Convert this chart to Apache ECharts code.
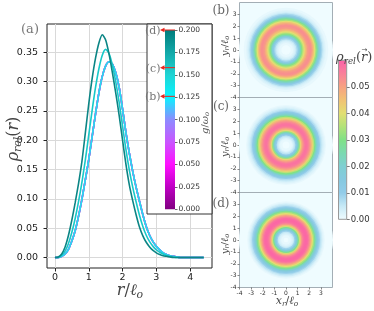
<!DOCTYPE html>
<html><head><meta charset="utf-8">
<script src="https://cdn.jsdelivr.net/npm/echarts@6/dist/echarts.min.js"></script>
<style>html,body{margin:0;padding:0;background:#fff}#c{width:374px;height:311px}pre{font-size:8px;position:absolute;top:0;left:0;margin:0}</style>
</head><body><div id="c"></div>
<script>
// ---------- data (panel a) ----------
const rGrid = [0,0.1,0.2,0.3,0.4,0.5,0.6,0.7,0.8,0.9,1.0,1.1,1.2,1.3,1.4,1.5,1.6,1.7,1.8,1.9,2.0,2.1,2.2,2.3,2.4,2.5,2.6,2.7,2.8,2.9,3.0,3.1,3.2,3.3,3.4,3.5,3.6,3.7,3.8,3.9,4.0,4.1,4.2,4.3,4.4];
const rhoB = [0,0.000,0.002,0.006,0.014,0.028,0.046,0.071,0.100,0.133,0.167,0.206,0.245,0.281,0.309,0.327,0.334,0.330,0.315,0.290,0.253,0.213,0.178,0.147,0.120,0.096,0.073,0.053,0.038,0.027,0.019,0.013,0.008,0.005,0.003,0.002,0.001,0,0,0,0,0,0,0,0];
const rhoC = [0,0.000,0.004,0.011,0.024,0.043,0.067,0.096,0.129,0.167,0.209,0.251,0.290,0.322,0.345,0.355,0.348,0.328,0.299,0.264,0.224,0.184,0.149,0.120,0.095,0.072,0.053,0.038,0.027,0.019,0.013,0.009,0.006,0.003,0.002,0.001,0,0,0,0,0,0,0,0,0];
const rhoD = [0,0.001,0.006,0.018,0.038,0.064,0.094,0.127,0.165,0.213,0.262,0.305,0.340,0.366,0.380,0.371,0.347,0.315,0.280,0.242,0.200,0.159,0.124,0.097,0.073,0.052,0.037,0.026,0.018,0.012,0.008,0.005,0.003,0.002,0.001,0,0,0,0,0,0,0,0,0,0];
const gCurves = [0, 0.05, 0.1, 0.126, 0.158, 0.2];
const rTicks = [0,1,2,3,4];
const rhoTicks = [0,0.05,0.10,0.15,0.20,0.25,0.30,0.35];
const gTicks = [0,0.025,0.05,0.075,0.1,0.125,0.15,0.175,0.2];
const gMarks = [0.126, 0.158, 0.2];
const gMarkLabels = ['(b)','(c)','(d)'];
const gMax = 0.2;
// ---------- data (panels b,c,d) ----------
const ringR = [0.1,0.2,0.3,0.4,0.5,0.6,0.7,0.8,0.9,1.0,1.1,1.2,1.3,1.4,1.5,1.6,1.7,1.8,1.9,2.0,2.1,2.2,2.3,2.4,2.5,2.6,2.7,2.8,2.9,3.0,3.1,3.2,3.3,3.4,3.5,3.6,3.7,3.8,3.9,4.0];
const densB = [0,0,0,0,0.001,0.001,0.002,0.003,0.005,0.008,0.012,0.018,0.025,0.031,0.036,0.040,0.045,0.048,0.051,0.052,0.053,0.052,0.049,0.045,0.040,0.034,0.028,0.022,0.016,0.011,0.008,0.005,0.003,0.002,0.001,0.001,0,0,0,0];
const densC = [0,0,0,0.001,0.001,0.002,0.004,0.006,0.010,0.016,0.024,0.033,0.042,0.048,0.052,0.055,0.057,0.057,0.056,0.054,0.051,0.047,0.042,0.036,0.030,0.024,0.019,0.014,0.010,0.007,0.005,0.003,0.002,0.001,0,0,0,0,0,0];
const densD = [0,0,0.001,0.001,0.002,0.003,0.005,0.009,0.014,0.021,0.029,0.038,0.046,0.052,0.056,0.058,0.059,0.059,0.058,0.055,0.051,0.046,0.040,0.034,0.028,0.022,0.017,0.012,0.009,0.006,0.004,0.002,0.001,0,0,0,0,0,0,0];
const densTicks = [0,0.01,0.02,0.03,0.04,0.05];
const densMax = 0.06;
const xyTicks = [-4,-3,-2,-1,0,1,2,3];

// ---------- styles ----------
const curveSets = [rhoB, rhoB, rhoB, rhoB, rhoC, rhoD];
const curveColors = ['#7d0a7d','#f010f0','#8f8cff','#25dcef','#17c9c9','#0b8585'];
const gStops = [[0,'#800080'],[0.025,'#bf00c4'],[0.05,'#ff10ff'],[0.075,'#c955ff'],[0.1,'#8c8cff'],[0.125,'#08f4ff'],[0.15,'#20d4d4'],[0.175,'#12a8a8'],[0.2,'#007c7c']];
const densColors = ['#effcff','#c6e9f6','#92cce9','#86c9e0','#7fcfd2','#7ad9b0','#80e186','#b2e278','#e2df72','#f1c274','#f7a282','#f9809a','#fc62a8'];
const serif = '"DejaVu Serif", serif';
const sans = '"DejaVu Sans", sans-serif';

function richLabel(parts, F, color, align){
  return {
    text: parts.map(p => '{' + p[0] + '|' + p[1] + '}').join(''),
    rich: {
      m: {fontFamily: serif, fontStyle:'italic', fontSize: F, lineHeight: F*1.2, verticalAlign:'middle', fill: color},
      u: {fontFamily: serif, fontSize: F, lineHeight: F*1.2, verticalAlign:'middle', fill: color},
      s: {fontFamily: serif, fontStyle:'italic', fontSize: F*0.68, lineHeight: F*0.7, verticalAlign:'bottom', fill: color}
    },
    align: align || 'center', verticalAlign:'middle', fill: color
  };
}

const panelTops = [2.5, 97.5, 192.5];
const panelDens = [densB, densC, densD];

// grid 0: panel a, 1: g colorbar, 2-4: ring panels, 5: density colorbar
const grids = [
  {left:47, top:24, width:165, height:244, show:true, borderColor:'#222', borderWidth:1, backgroundColor:'transparent'},
  {left:165, top:30, width:10, height:179.3, z:10},
  ...panelTops.map(t => ({left:239.5, top:t, width:93, height:95, show:true, borderColor:'#a3aeb5', borderWidth:1, backgroundColor:densColors[0]})),
  {left:338.5, top:60.3, width:8.2, height:159, show:true, borderColor:'#999', borderWidth:1, backgroundColor:'transparent', z:3}
];

const xAxes = [
  {gridIndex:0, type:'value', min:-0.235, max:4.645,
   axisLine:{show:false, onZero:false},
   axisTick:{show:true, length:3.5, customValues:rTicks, lineStyle:{color:'#222'}},
   axisLabel:{customValues:rTicks, fontSize:9.5, fontFamily:sans, color:'#222', margin:5},
   splitLine:{show:true, lineStyle:{color:'#d9d9d9', width:1}}},
  {gridIndex:1, type:'value', min:0, max:1, show:false},
  ...[2,3,4].map(gi => ({gridIndex:gi, type:'value', min:-4, max:4,
   axisLine:{show:false, onZero:false},
   axisTick:{show: gi===4, length:2, customValues:xyTicks, lineStyle:{color:'#555', width:0.7}},
   axisLabel:{show: gi===4, customValues:xyTicks, fontSize:6, fontFamily:sans, color:'#333', margin:3},
   splitLine:{show:false}})),
  {gridIndex:5, type:'value', min:0, max:1, show:false}
];
const yAxes = [
  {gridIndex:0, type:'value', min:-0.0179, max:0.3983,
   axisLine:{show:false, onZero:false},
   axisTick:{show:true, length:3.5, customValues:rhoTicks, lineStyle:{color:'#222'}},
   axisLabel:{customValues:rhoTicks, formatter:v=>v.toFixed(2), fontSize:9.5, fontFamily:sans, color:'#222', margin:9},
   splitLine:{show:true, lineStyle:{color:'#d9d9d9', width:1}}},
  {gridIndex:1, type:'value', min:0, max:gMax, position:'right', z:12,
   axisLine:{show:false, onZero:false},
   axisTick:{show:true, length:2.5, customValues:gTicks, lineStyle:{color:'#444', width:0.8}},
   axisLabel:{customValues:gTicks, formatter:v=>v.toFixed(3), fontSize:7.5, fontFamily:sans, color:'#333', margin:3.5},
   splitLine:{show:false}},
  ...[2,3,4].map(gi => ({gridIndex:gi, type:'value', min:-4, max:4,
   axisLine:{show:false, onZero:false},
   axisTick:{show:true, length:2, customValues:xyTicks, lineStyle:{color:'#555', width:0.7}},
   axisLabel:{customValues:xyTicks, fontSize:6, fontFamily:sans, color:'#333', margin:3},
   splitLine:{show:false}})),
  {gridIndex:5, type:'value', min:0, max:densMax, position:'right',
   axisLine:{show:false, onZero:false},
   axisTick:{show:true, length:3, customValues:densTicks, lineStyle:{color:'#555', width:0.8}},
   axisLabel:{customValues:densTicks, formatter:v=>v.toFixed(2), fontSize:8.5, fontFamily:sans, color:'#333', margin:4},
   splitLine:{show:false}}
];

const series = [];
gCurves.forEach((g,i) => {
  series.push({type:'line', name:'g='+g, xAxisIndex:0, yAxisIndex:0,
    data: rGrid.map((r,k) => [r, curveSets[i][k]]),
    showSymbol:false, smooth:0.25, lineStyle:{color:curveColors[i], width:1.6}, itemStyle:{color:curveColors[i]}, z:2});
});
// g colorbar
series.push({type:'custom', xAxisIndex:1, yAxisIndex:1, z:10, clip:false, data:[[0, gMax]],
  renderItem:(params, api) => {
    const p0 = api.coord([0, 0]), p1 = api.coord([1, api.value(1)]);
    return {type:'rect', shape:{x:p0[0], y:p1[1], width:p1[0]-p0[0], height:p0[1]-p1[1]},
      style:{fill: new echarts.graphic.LinearGradient(0,1,0,0, gStops.map(s => ({offset:s[0]/gMax, color:s[1]})))}};
  }});
// red markers
series.push({type:'custom', xAxisIndex:1, yAxisIndex:1, z:11, clip:false, data:gMarks.map(g => [0, g]),
  renderItem:(params, api) => {
    const g = api.value(1);
    const a = api.coord([-0.5, g]), b = api.coord([1, g]);
    return {type:'group', children:[
      {type:'line', shape:{x1:a[0]+3, y1:a[1], x2:b[0], y2:b[1]}, style:{stroke:'#e8261e', lineWidth:1}},
      {type:'polygon', shape:{points:[[a[0],a[1]],[a[0]+4.5,a[1]-2.3],[a[0]+4.5,a[1]+2.3]]}, style:{fill:'#e8261e'}},
      {type:'text', x:a[0]+0.5, y:a[1]+1.2, style:{text:gMarkLabels[params.dataIndex], fill:'#777', font:'11px '+serif, align:'right', verticalAlign:'middle'}}
    ]};
  }});
// ring panels (polar bars: discs drawn outermost first)
const barSeriesIdx = [];
panelDens.forEach((dens, pi) => {
  const data = [];
  for (let j = ringR.length - 1; j >= 0; j--) data.push([ringR[j], 0, dens[j]]);
  barSeriesIdx.push(series.length);
  series.push({type:'bar', coordinateSystem:'polar', polarIndex:pi, barCategoryGap:'0%', barGap:'-100%', data:data, z:2, silent:true});
});
// density colorbar
series.push({type:'custom', xAxisIndex:5, yAxisIndex:5, z:2, clip:false, data:[[0, densMax]],
  renderItem:(params, api) => {
    const p0 = api.coord([0, 0]), p1 = api.coord([1, api.value(1)]);
    return {type:'rect', shape:{x:p0[0], y:p1[1], width:p1[0]-p0[0], height:p0[1]-p1[1]},
      style:{fill: new echarts.graphic.LinearGradient(0,1,0,0, densColors.map((c,i) => ({offset:i/(densColors.length-1), color:c})))}};
  }});

const txt = (x, y, rot, parts, F, color, align) => ({type:'text', x:x, y:y, rotation:rot, z:30, style: richLabel(parts, F, color, align)});
const option = {
  animation:false,
  backgroundColor:'#fff',
  grid: grids,
  xAxis: xAxes,
  yAxis: yAxes,
  polar: panelTops.map(t => ({center:[286, t + 47.5], radius:[0, 47]})),
  angleAxis: panelTops.map((t,i) => ({polarIndex:i, type:'category', data:['all'], show:false, startAngle:90})),
  radiusAxis: panelTops.map((t,i) => ({polarIndex:i, type:'value', min:0, max:4, show:false})),
  visualMap: [{type:'continuous', show:false, seriesIndex:barSeriesIdx, dimension:2, min:0, max:densMax, inRange:{color:densColors}}],
  series: series,
  graphic: {elements: [
    {type:'rect', shape:{x:147, y:24, width:65, height:190}, style:{fill:'#fff', stroke:'#333', lineWidth:1}, z:5},
    {type:'text', x:30, y:30, z:30, style:{text:'(a)', font:'13px '+serif, fill:'#777', align:'center', verticalAlign:'middle'}},
    txt(14, 139, Math.PI/2, [['m','ρ'],['s','rel'],['u','('],['m','r'],['u',')']], 16, '#444'),
    txt(130, 291, 0, [['m','r'],['u','/'],['m','ℓ'],['s','o']], 16, '#444'),
    txt(205, 123, Math.PI/2, [['m','g'],['u','/'],['m','ω'],['s','o']], 10, '#555'),
    {type:'text', x:221, y:11, z:30, style:{text:'(b)', font:'12px '+serif, fill:'#666', align:'center', verticalAlign:'middle'}},
    {type:'text', x:221, y:107, z:30, style:{text:'(c)', font:'12px '+serif, fill:'#666', align:'center', verticalAlign:'middle'}},
    {type:'text', x:221, y:204, z:30, style:{text:'(d)', font:'12px '+serif, fill:'#666', align:'center', verticalAlign:'middle'}},
    txt(225, 46, Math.PI/2, [['m','y'],['s','r'],['u','/'],['m','ℓ'],['s','o']], 10, '#444'),
    txt(225, 147, Math.PI/2, [['m','y'],['s','r'],['u','/'],['m','ℓ'],['s','o']], 10, '#444'),
    txt(225, 244, Math.PI/2, [['m','y'],['s','r'],['u','/'],['m','ℓ'],['s','o']], 10, '#444'),
    txt(287, 301, 0, [['m','x'],['s','r'],['u','/'],['m','ℓ'],['s','o']], 11, '#444'),
    txt(361, 58, 0, [['m','ρ'],['s','rel'],['u','(']], 13, '#444', 'right'),
    txt(361, 58, 0, [['m','r'],['u',')']], 13, '#444', 'left'),
    {type:'text', x:364.5, y:50, z:30, style:{text:'→', font:'7px '+sans, fill:'#444', align:'center', verticalAlign:'middle'}}
  ]}
};
const chart = echarts.init(document.getElementById('c'), null, {renderer:'canvas', width:374, height:311});
try { chart.setOption(option); } catch (e) { document.body.insertAdjacentHTML('beforeend', '<pre>' + String(e.stack).slice(0, 900).replace(/</g,'&lt;') + '</pre>'); }
</script>
</body></html>
